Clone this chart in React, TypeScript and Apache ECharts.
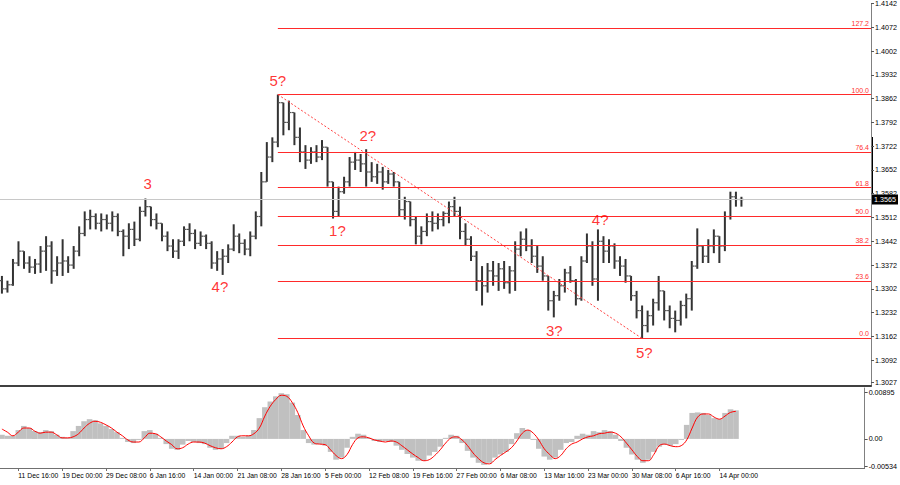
import React, { useEffect, useRef } from "react";
import * as echarts from "echarts";

// ---------- DATA ----------
// bar index of first bar (index 0 = "11 Dec 16:00" tick)
const FIRST_BAR = -3;

const opens = [
  1.3326, 1.3302, 1.3314, 1.3378, 1.3413, 1.3378, 1.3366, 1.3375, 1.3413, 1.3428,
  1.3355, 1.3378, 1.3384, 1.3372, 1.3413, 1.3465, 1.3506, 1.3515, 1.3495, 1.3506,
  1.3495, 1.3515, 1.3471, 1.3457, 1.3477, 1.3448, 1.3530, 1.3544, 1.3506, 1.3495,
  1.3457, 1.3428, 1.3413, 1.3442, 1.3477, 1.3465, 1.3436, 1.3457, 1.3436, 1.3378,
  1.3390, 1.3398, 1.3419, 1.3457, 1.3436, 1.3419, 1.3457, 1.3515, 1.3617, 1.3690,
  1.3734, 1.3850, 1.3792, 1.3821, 1.3748, 1.3705, 1.3681, 1.3705, 1.3690, 1.3719,
  1.3617, 1.3530, 1.3588, 1.3617, 1.3675, 1.3681, 1.3670, 1.3646, 1.3632, 1.3646,
  1.3617, 1.3640, 1.3617, 1.3535, 1.3559, 1.3506, 1.3457, 1.3471, 1.3500, 1.3495,
  1.3506, 1.3524, 1.3544, 1.3530, 1.3471, 1.3448, 1.3398, 1.3326, 1.3311, 1.3355,
  1.3340, 1.3361, 1.3320, 1.3355, 1.3419, 1.3448, 1.3428, 1.3398, 1.3369, 1.3340,
  1.3267, 1.3282, 1.3311, 1.3349, 1.3326, 1.3273, 1.3384, 1.3428, 1.3331, 1.3442,
  1.3413, 1.3428, 1.3384, 1.3369, 1.3340, 1.3282, 1.3238, 1.3194, 1.3223, 1.3261,
  1.3296, 1.3238, 1.3215, 1.3209, 1.3253, 1.3273, 1.3369, 1.3428, 1.3398, 1.3428,
  1.3457, 1.3428, 1.3515, 1.3573, 1.3565,
];
const highs = [
  1.3340, 1.3326, 1.3390, 1.3442, 1.3413, 1.3398, 1.3390, 1.3428, 1.3457, 1.3442,
  1.3398, 1.3448, 1.3398, 1.3428, 1.3486, 1.3530, 1.3535, 1.3524, 1.3524, 1.3521,
  1.3530, 1.3524, 1.3477, 1.3495, 1.3500, 1.3544, 1.3568, 1.3544, 1.3524, 1.3495,
  1.3471, 1.3448, 1.3448, 1.3486, 1.3495, 1.3477, 1.3471, 1.3462, 1.3442, 1.3413,
  1.3419, 1.3433, 1.3492, 1.3465, 1.3448, 1.3471, 1.3530, 1.3646, 1.3734, 1.3748,
  1.3874, 1.3850, 1.3856, 1.3821, 1.3777, 1.3725, 1.3719, 1.3725, 1.3740, 1.3719,
  1.3617, 1.3603, 1.3632, 1.3690, 1.3705, 1.3699, 1.3713, 1.3675, 1.3670, 1.3661,
  1.3652, 1.3646, 1.3617, 1.3573, 1.3559, 1.3515, 1.3486, 1.3524, 1.3530, 1.3524,
  1.3530, 1.3559, 1.3573, 1.3544, 1.3495, 1.3457, 1.3413, 1.3369, 1.3378, 1.3384,
  1.3378, 1.3384, 1.3369, 1.3442, 1.3471, 1.3480, 1.3448, 1.3428, 1.3398, 1.3340,
  1.3296, 1.3331, 1.3361, 1.3369, 1.3331, 1.3398, 1.3465, 1.3442, 1.3477, 1.3457,
  1.3448, 1.3436, 1.3398, 1.3390, 1.3340, 1.3296, 1.3253, 1.3238, 1.3273, 1.3340,
  1.3296, 1.3253, 1.3238, 1.3267, 1.3288, 1.3384, 1.3480, 1.3428, 1.3448, 1.3477,
  1.3457, 1.3530, 1.3588, 1.3588, 1.3573,
];
const lows = [
  1.3288, 1.3291, 1.3311, 1.3369, 1.3361, 1.3349, 1.3346, 1.3349, 1.3355, 1.3317,
  1.3340, 1.3340, 1.3349, 1.3361, 1.3398, 1.3457, 1.3477, 1.3477, 1.3471, 1.3477,
  1.3471, 1.3457, 1.3398, 1.3419, 1.3428, 1.3442, 1.3515, 1.3486, 1.3477, 1.3442,
  1.3413, 1.3393, 1.3390, 1.3428, 1.3442, 1.3419, 1.3428, 1.3419, 1.3361, 1.3355,
  1.3343, 1.3378, 1.3413, 1.3407, 1.3401, 1.3398, 1.3448, 1.3486, 1.3617, 1.3675,
  1.3719, 1.3754, 1.3769, 1.3725, 1.3675, 1.3655, 1.3670, 1.3675, 1.3681, 1.3603,
  1.3509, 1.3515, 1.3582, 1.3603, 1.3652, 1.3646, 1.3603, 1.3617, 1.3611, 1.3594,
  1.3611, 1.3603, 1.3515, 1.3506, 1.3486, 1.3433, 1.3433, 1.3457, 1.3471, 1.3477,
  1.3486, 1.3495, 1.3515, 1.3448, 1.3428, 1.3384, 1.3296, 1.3253, 1.3291, 1.3311,
  1.3296, 1.3302, 1.3288, 1.3296, 1.3398, 1.3413, 1.3378, 1.3349, 1.3326, 1.3238,
  1.3218, 1.3267, 1.3291, 1.3320, 1.3253, 1.3267, 1.3378, 1.3311, 1.3267, 1.3378,
  1.3378, 1.3361, 1.3340, 1.3320, 1.3267, 1.3215, 1.3156, 1.3174, 1.3194, 1.3238,
  1.3209, 1.3186, 1.3174, 1.3194, 1.3215, 1.3238, 1.3361, 1.3378, 1.3378, 1.3407,
  1.3378, 1.3413, 1.3506, 1.3544, 1.3544,
];
const closes = [
  1.3302, 1.3314, 1.3378, 1.3413, 1.3378, 1.3366, 1.3375, 1.3413, 1.3428, 1.3355,
  1.3378, 1.3384, 1.3372, 1.3413, 1.3465, 1.3506, 1.3515, 1.3495, 1.3506, 1.3495,
  1.3515, 1.3471, 1.3457, 1.3477, 1.3448, 1.3530, 1.3544, 1.3506, 1.3495, 1.3457,
  1.3428, 1.3413, 1.3442, 1.3477, 1.3465, 1.3436, 1.3457, 1.3436, 1.3378, 1.3390,
  1.3398, 1.3419, 1.3457, 1.3436, 1.3419, 1.3457, 1.3515, 1.3617, 1.3690, 1.3734,
  1.3850, 1.3792, 1.3821, 1.3748, 1.3705, 1.3681, 1.3705, 1.3690, 1.3719, 1.3617,
  1.3530, 1.3588, 1.3617, 1.3675, 1.3681, 1.3670, 1.3646, 1.3632, 1.3646, 1.3617,
  1.3640, 1.3617, 1.3535, 1.3559, 1.3506, 1.3457, 1.3471, 1.3500, 1.3495, 1.3506,
  1.3524, 1.3544, 1.3530, 1.3471, 1.3448, 1.3398, 1.3326, 1.3311, 1.3355, 1.3340,
  1.3361, 1.3320, 1.3355, 1.3419, 1.3448, 1.3428, 1.3398, 1.3369, 1.3340, 1.3267,
  1.3282, 1.3311, 1.3349, 1.3326, 1.3273, 1.3384, 1.3428, 1.3331, 1.3442, 1.3413,
  1.3428, 1.3384, 1.3369, 1.3340, 1.3282, 1.3238, 1.3194, 1.3223, 1.3261, 1.3296,
  1.3238, 1.3215, 1.3209, 1.3253, 1.3273, 1.3369, 1.3428, 1.3398, 1.3428, 1.3457,
  1.3428, 1.3515, 1.3573, 1.3565, 1.3565,
];

// oscillator histogram (grey) and signal (red)
const histValues = [
  0.0008, 0.0006, 0.0006, 0.0017, 0.0025, 0.0021, 0.0015, 0.0013, 0.0017, 0.0015,
  0.0008, 0.0004, 0.0002, 0.0015, 0.0025, 0.0034, 0.0038, 0.0036, 0.0030, 0.0025,
  0.0019, 0.0013, 0.0002, -0.0006, -0.0008, -0.0002, 0.0015, 0.0017, 0.0010, 0.0002,
  -0.0010, -0.0019, -0.0021, -0.0011, -0.0004, -0.0006, -0.0008, -0.0010, -0.0017, -0.0021,
  -0.0019, -0.0008, 0.0006, 0.0006, 0.0004, 0.0006, 0.0017, 0.0040, 0.0061, 0.0072,
  0.0082, 0.0088, 0.0086, 0.0070, 0.0046, 0.0017, -0.0008, -0.0011, -0.0010, -0.0013,
  -0.0025, -0.0040, -0.0036, -0.0017, 0.0004, 0.0010, 0.0008, 0.0002, -0.0004, -0.0006,
  -0.0004, -0.0006, -0.0013, -0.0021, -0.0029, -0.0036, -0.0042, -0.0042, -0.0032, -0.0025,
  -0.0015, 0.0002, 0.0008, 0.0006, -0.0008, -0.0023, -0.0036, -0.0046, -0.0050, -0.0046,
  -0.0036, -0.0030, -0.0025, -0.0010, 0.0011, 0.0021, 0.0017, -0.0002, -0.0019, -0.0034,
  -0.0040, -0.0036, -0.0021, -0.0008, -0.0006, 0.0006, 0.0010, 0.0008, 0.0015, 0.0013,
  0.0017, 0.0015, 0.0008, -0.0004, -0.0017, -0.0030, -0.0040, -0.0046, -0.0040, -0.0025,
  -0.0015, -0.0011, -0.0013, -0.0010, -0.0002, 0.0027, 0.0050, 0.0051, 0.0050, 0.0046,
  0.0040, 0.0038, 0.0050, 0.0057, 0.0055,
];
const signalValues = [
  0.0019, 0.0013, 0.0006, 0.0013, 0.0021, 0.0021, 0.0015, 0.0011, 0.0013, 0.0013,
  0.0008, 0.0002, 0.0002, 0.0004, 0.0010, 0.0021, 0.0030, 0.0034, 0.0032, 0.0027,
  0.0021, 0.0013, 0.0006, -0.0002, -0.0006, -0.0006, 0.0002, 0.0011, 0.0010, 0.0004,
  -0.0004, -0.0011, -0.0019, -0.0017, -0.0010, -0.0006, -0.0006, -0.0008, -0.0013, -0.0017,
  -0.0019, -0.0015, -0.0006, 0.0004, 0.0006, 0.0006, 0.0010, 0.0021, 0.0044, 0.0063,
  0.0076, 0.0084, 0.0082, 0.0070, 0.0051, 0.0025, 0.0006, -0.0008, -0.0010, -0.0011,
  -0.0021, -0.0032, -0.0038, -0.0030, -0.0011, 0.0002, 0.0004, 0.0002, -0.0002, -0.0004,
  -0.0006, -0.0004, -0.0006, -0.0013, -0.0021, -0.0029, -0.0036, -0.0042, -0.0040, -0.0032,
  -0.0021, -0.0008, 0.0002, 0.0004, -0.0002, -0.0013, -0.0027, -0.0038, -0.0046, -0.0048,
  -0.0040, -0.0032, -0.0025, -0.0017, -0.0004, 0.0011, 0.0017, 0.0011, -0.0002, -0.0019,
  -0.0030, -0.0038, -0.0032, -0.0019, -0.0010, -0.0006, 0.0000, 0.0004, 0.0006, 0.0010,
  0.0011, 0.0013, 0.0011, 0.0004, -0.0008, -0.0021, -0.0034, -0.0042, -0.0042, -0.0030,
  -0.0013, -0.0010, -0.0013, -0.0015, -0.0013, -0.0002, 0.0021, 0.0042, 0.0048, 0.0048,
  0.0042, 0.0038, 0.0044, 0.0051, 0.0053,
];

// time axis labels (bar index of each)
const xLabelIndex = [0, 8, 16, 24, 32, 40, 48, 56, 64, 72, 80, 88, 96, 104, 112, 120, 128];
const xLabels = [
  "11 Dec 16:00", "19 Dec 00:00", "29 Dec 08:00", "6 Jan 16:00", "14 Jan 00:00",
  "21 Jan 08:00", "28 Jan 16:00", "5 Feb 00:00", "12 Feb 08:00", "19 Feb 16:00",
  "27 Feb 00:00", "6 Mar 08:00", "13 Mar 16:00", "23 Mar 00:00", "30 Mar 08:00",
  "6 Apr 16:00", "14 Apr 00:00",
];

// price axis ticks
const priceTicks = [
  1.3027, 1.3092, 1.3162, 1.3232, 1.3302, 1.3372, 1.3442, 1.3512, 1.3582, 1.3652,
  1.3722, 1.3792, 1.3862, 1.3932, 1.4002, 1.4072, 1.4142,
];
const oscTicks = [-0.00534, 0, 0.00895];
const oscTickLabels = ["-0.00534", "0.00", "0.00895"];

// Fibonacci retracement
const fibStartBar = 47;
const fibHigh = 1.3874;
const fibLow = 1.3156;
const fibRatios = [0, 23.6, 38.2, 50.0, 61.8, 76.4, 100.0, 127.2];
const fibLabels = ["0.0", "23.6", "38.2", "50.0", "61.8", "76.4", "100.0", "127.2"];
const trendFrom = [47, 1.3874];
const trendTo = [113, 1.3156];
const lastPrice = 1.3565;

// wave counts
const waveText = ["3", "4?", "5?", "1?", "2?", "3?", "4?", "5?"];
const waveBar = [23.4, 36.5, 47, 57.8, 63.3, 97.1, 105.4, 113.4];
const wavePrice = [1.3611, 1.3308, 1.3915, 1.3474, 1.3754, 1.318, 1.3506, 1.3116];

// ---------- VIEW ----------
const X_MIN = -3.348;
const X_MAX = 154.48;
const FONT = "'Liberation Sans', Arial, sans-serif";

export default function App() {
  const ref = useRef<HTMLDivElement>(null);

  useEffect(() => {
    if (!ref.current) return;
    const chart = echarts.init(ref.current, null, { renderer: "svg" });

    const bars = opens.map((o, k) => [FIRST_BAR + k, o, highs[k], lows[k], closes[k]]);
    const hist = histValues.map((v, k) => [FIRST_BAR + k, v]);
    const signal = signalValues.map((v, k) => [FIRST_BAR + k, v]);
    const waves = waveText.map((t, k) => [waveBar[k], wavePrice[k], t]);

    const fibLines = fibRatios.map((r, k) => {
      const lvl = fibLow + (r / 100) * (fibHigh - fibLow);
      return [
        { coord: [fibStartBar, lvl] },
        {
          coord: [X_MAX, lvl],
          label: {
            show: true,
            formatter: fibLabels[k],
            position: "insideEndTop",
            distance: [2, 1],
            color: "#ff3030",
            fontSize: 7,
            fontFamily: FONT,
          },
        },
      ];
    });

    const option: any = {
      animation: false,
      backgroundColor: "#ffffff",
      grid: [
        { left: 0, top: 0, width: 872, height: 386 },
        { left: 0, top: 388, width: 872, height: 80 },
      ],
      xAxis: [
        {
          gridIndex: 0,
          type: "value",
          min: X_MIN,
          max: X_MAX,
          axisLine: { show: true, onZero: false, lineStyle: { color: "#404040", width: 2 } },
          axisTick: { show: false },
          axisLabel: { show: false },
          splitLine: { show: false },
        },
        {
          gridIndex: 1,
          type: "value",
          min: X_MIN,
          max: X_MAX,
          axisLine: { show: true, onZero: false, lineStyle: { color: "#707070", width: 1 } },
          axisTick: {
            show: true,
            length: 3,
            customValues: xLabelIndex,
            lineStyle: { color: "#707070" },
          },
          axisLabel: {
            show: true,
            customValues: xLabelIndex,
            formatter: (v: number) => {
              const k = xLabelIndex.indexOf(Math.round(v));
              return k >= 0 ? xLabels[k] : "";
            },
            align: "left",
            margin: 4,
            fontSize: 6.8,
            color: "#000",
            fontFamily: FONT,
          },
          splitLine: { show: false },
        },
      ],
      yAxis: [
        {
          gridIndex: 0,
          type: "value",
          position: "right",
          min: 1.3016,
          max: 1.4142,
          axisLine: { show: true, onZero: false, lineStyle: { color: "#808080", width: 1 } },
          axisTick: {
            show: true,
            length: 3,
            customValues: priceTicks,
            lineStyle: { color: "#555" },
          },
          axisLabel: {
            show: true,
            customValues: priceTicks,
            formatter: (v: number) => v.toFixed(4),
            margin: 4,
            fontSize: 7.2,
            color: "#000",
            fontFamily: FONT,
          },
          splitLine: { show: false },
        },
        {
          gridIndex: 1,
          type: "value",
          position: "right",
          min: -0.0056,
          max: 0.0098,
          axisLine: { show: true, onZero: false, lineStyle: { color: "#808080", width: 1 } },
          axisTick: {
            show: true,
            length: 3,
            customValues: oscTicks,
            lineStyle: { color: "#555" },
          },
          axisLabel: {
            show: true,
            customValues: oscTicks,
            formatter: (v: number) => {
              const k = oscTicks.findIndex((t) => Math.abs(t - v) < 1e-7);
              return k >= 0 ? oscTickLabels[k] : "";
            },
            margin: 4,
            fontSize: 7.2,
            color: "#000",
            fontFamily: FONT,
          },
          splitLine: { show: false },
        },
      ],
      series: [
        {
          type: "line",
          xAxisIndex: 0,
          yAxisIndex: 0,
          data: [],
          silent: true,
          z: 1,
          markLine: {
            silent: true,
            symbol: ["none", "none"],
            animation: false,
            label: { show: false },
            lineStyle: { color: "#ff2a2a", width: 1, type: "solid" },
            data: [
              [
                {
                  coord: [X_MIN, lastPrice],
                  lineStyle: { color: "#c8c8c8", width: 1, type: "solid" },
                },
                {
                  coord: [X_MAX, lastPrice],
                  label: {
                    show: true,
                    position: "end",
                    formatter: lastPrice.toFixed(4),
                    distance: 1,
                    color: "#ffffff",
                    backgroundColor: "#000000",
                    padding: [2, 2, 1, 2],
                    fontSize: 7.2,
                    fontFamily: FONT,
                  },
                },
              ],
              ...fibLines,
              [
                { coord: trendFrom, lineStyle: { color: "#ff4040", width: 1, type: [2, 2] } },
                { coord: trendTo },
              ],
            ],
          },
        },
        {
          type: "custom",
          xAxisIndex: 0,
          yAxisIndex: 0,
          data: bars,
          z: 3,
          silent: true,
          renderItem: (params: any, api: any) => {
            const x = api.value(0);
            const o = api.value(1);
            const h = api.value(2);
            const l = api.value(3);
            const c = api.value(4);
            const ph = api.coord([x, h]);
            const pl = api.coord([x, l]);
            const po = api.coord([x, o]);
            const pc = api.coord([x, c]);
            const stroke = "#333333";
            return {
              type: "group",
              children: [
                {
                  type: "line",
                  shape: { x1: ph[0], y1: ph[1], x2: pl[0], y2: pl[1] },
                  style: { stroke, lineWidth: 2 },
                },
                {
                  type: "line",
                  shape: { x1: po[0] - 2.6, y1: po[1], x2: po[0], y2: po[1] },
                  style: { stroke: "#555", lineWidth: 1.2 },
                },
                {
                  type: "line",
                  shape: { x1: pc[0], y1: pc[1], x2: pc[0] + 2.6, y2: pc[1] },
                  style: { stroke: "#555", lineWidth: 1.2 },
                },
              ],
            };
          },
        },
        {
          type: "scatter",
          xAxisIndex: 0,
          yAxisIndex: 0,
          data: waves,
          symbolSize: 1,
          itemStyle: { color: "rgba(0,0,0,0)" },
          silent: true,
          z: 5,
          label: {
            show: true,
            position: "inside",
            formatter: (p: any) => p.data[2],
            color: "#ff0000",
            fontSize: 15,
            fontFamily: FONT,
          },
        },
        {
          type: "bar",
          xAxisIndex: 1,
          yAxisIndex: 1,
          data: hist,
          barWidth: 5.6,
          itemStyle: { color: "#c0c0c0" },
          silent: true,
        },
        {
          type: "line",
          xAxisIndex: 1,
          yAxisIndex: 1,
          data: signal,
          smooth: 0.4,
          showSymbol: false,
          symbol: "none",
          lineStyle: { color: "#ff0000", width: 1 },
          silent: true,
          z: 4,
        },
      ],
      graphic: [
        {
          type: "rect",
          shape: { x: 871, y: 137, width: 2, height: 56 },
          style: { fill: "#000" },
          silent: true,
        },
      ],
    };

    chart.setOption(option);
    return () => {
      chart.dispose();
    };
  }, []);

  return (
    <div
      ref={ref}
      style={{ position: "fixed", left: 0, top: 0, width: 900, height: 485, background: "#fff" }}
    />
  );
}
